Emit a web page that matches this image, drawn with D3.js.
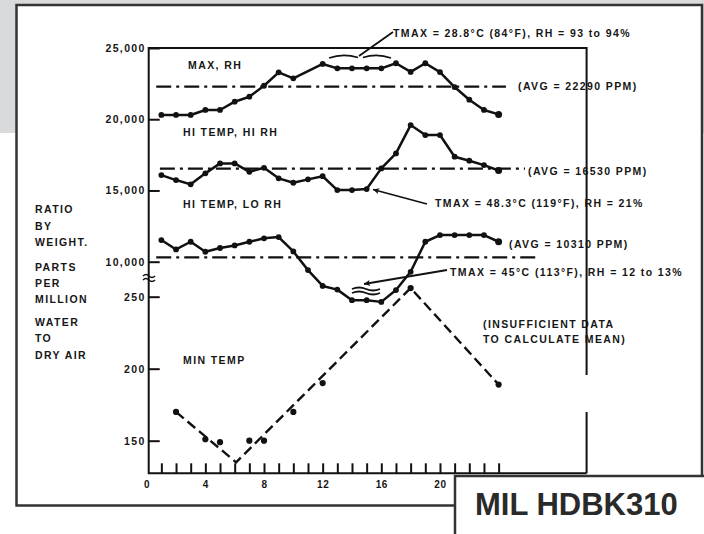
<!DOCTYPE html>
<html lang="en">
<head>
<meta charset="UTF-8">
<title>MIL HDBK310 - Water to Dry Air Ratio</title>
<style>
  html, body {width: 100%; height: 100%; margin: 0; padding: 0; background: #fff;}
  svg {display: block;}
  text {font-family: "Liberation Sans", Arial, sans-serif; font-weight: bold; fill: #161616;}
  .lbl {font-size: 10.5px; letter-spacing: 1.4px;}
  .tick text {font-size: 10.5px; letter-spacing: 1.35px; fill: #161616;}
  .xlab .tick text {font-size: 10px; letter-spacing: 0.6px;}
  .tick line {stroke: #111; stroke-width: 2px;}
  .series {fill: none; stroke: #111; stroke-width: 2.5px; stroke-linejoin: round;}
  .avg {fill: none; stroke: #111; stroke-width: 2.2px; stroke-dasharray: 15 5 3 5;}
  .trend {fill: none; stroke: #111; stroke-width: 2.4px; stroke-dasharray: 10 5;}
  .frame {fill: none; stroke: #333; stroke-width: 2.5px;}
  .thin {fill: none; stroke: #111; stroke-width: 1.8px;}
</style>
<script src="https://d3js.org/d3.v7.min.js"></script>
</head>
<body>

<!-- chart data (hour of day vs. ratio in ppm) -->
<script>
var maxRhHour = [1, 2, 3, 4, 5, 6, 7, 8, 9, 10, 12, 13, 14, 15, 16, 17, 18, 19, 20, 21, 22, 23, 24];
var maxRh = [20300, 20300, 20300, 20650, 20650, 21230, 21580, 22350, 23290, 22870, 23880, 23570, 23570,
	23570, 23570, 23930, 23320, 23930, 23310, 22260, 21370, 20650, 20340];

var hiHiHour = [1, 2, 3, 4, 5, 6, 7, 8, 9, 10, 11, 12, 13, 14, 15, 16, 17, 18, 19, 20, 21, 22, 23, 24];
var hiTempHiRh = [16080, 15730, 15430, 16200, 16900, 16900, 16310, 16590, 15850, 15540, 15780, 16000,
	15030, 15030, 15100, 16550, 17600, 19590, 18890, 18890, 17370, 17090, 16780, 16400];

var hiLoHour = [1, 2, 3, 4, 5, 6, 7, 8, 9, 10, 11, 12, 13, 14, 15, 16, 17, 18, 19, 20, 21, 22, 23, 24];
var hiTempLoRh = [11520, 10860, 11400, 10700, 10960, 11140, 11400, 11640, 11730, 10720, 9410, 8300,
	8040, 7300, 7300, 7180, 8010, 9290, 11400, 11870, 11870, 11870, 11870, 11400];

// min temp is plotted on the lower (broken) scale
var minTempHour = [2, 4, 5, 7, 8, 10, 12, 18, 24];
var minTemp = [170, 151, 149, 150, 150, 170, 190, 256, 189];
var minTrendHour = [2, 6.1, 18, 24];
var minTrend = [170, 135, 256, 189];

// averages: level and the hour span of each dashed line
var avgLevel = [22290, 16530, 10310];
var avgFrom = [0.65, 0.9, 0.65];
var avgTo = [24.5, 25.8, 26.5];

var upperTicks = [10000, 15000, 20000, 25000];
var lowerTicks = [150, 200, 250];
var hourTicks = [0, 4, 8, 12, 16, 20];
</script>

<script>
	var width = 704, height = 534;

	var svg = d3.select('body').append('svg')
		.attr('width', width)
		.attr('height', height);

	// arrow head, tip at the end of the line
	svg.append('defs').append('marker')
		.attr('id', 'arr')
		.attr('viewBox', '0 0 10 10')
		.attr('refX', 10).attr('refY', 5)
		.attr('markerWidth', 11).attr('markerHeight', 6)
		.attr('markerUnits', 'userSpaceOnUse')
		.attr('orient', 'auto')
		.append('path').attr('d', 'M10,5 L0,0 L2,5 L0,10 Z').attr('fill', '#111');

	// page background and frame
	svg.append('rect').attr('width', width).attr('height', 133).attr('fill', '#d9dadc');
	svg.append('rect').attr('x', 16.5).attr('y', 5).attr('width', 685.5).attr('height', 529).attr('fill', '#fff');
	svg.append('path').attr('class', 'frame')
		.attr('d', 'M16.5,505.5 V5 H702 V476 M455,534 V476 H706 M15.3,505.5 H455');
	svg.append('text')
		.attr('x', 475).attr('y', 515)
		.style('font-size', '31px').style('fill', '#2a2a2a')
		.text('MIL HDBK310');

	// scales
	var x = d3.scaleLinear().domain([0, 30]).range([146.7, 586.6]);
	var yUp = d3.scaleLinear().domain([10000, 25000]).range([261.7, 48]);
	var yLow = d3.scaleLinear().domain([150, 250]).range([440.7, 296.7]);
	var axisX = x(0) + 2;
	var bottomY = 473.3;

	// plot box: y axis, top, right (with a gap), bottom
	var g = svg.append('g');
	g.append('path').attr('class', 'thin').style('stroke-width', '2px')
		.attr('d', 'M' + axisX + ',' + (bottomY + 1) + ' V' + yUp(25000) + ' H' + x(30)
			+ ' V375 M' + x(30) + ',412 V' + bottomY + ' M' + (axisX - 1) + ',' + bottomY + ' H' + x(30));

	// axis break mark
	g.append('path').attr('class', 'thin').style('stroke-width', '1.6px')
		.attr('d', 'M143,276 q3,-3 6,0 t6,0 M143,280 q3,-3 6,0 t6,0');

	// y axes (ticks point inward)
	g.append('g').attr('transform', 'translate(' + axisX + ',0)')
		.call(d3.axisLeft(yUp).tickValues(upperTicks).tickFormat(d3.format(',')).tickSize(-11).tickPadding(3))
		.call(function (a) { a.select('.domain').remove(); });
	g.append('g').attr('transform', 'translate(' + axisX + ',0)')
		.call(d3.axisLeft(yLow).tickValues(lowerTicks).tickSize(-11).tickPadding(3))
		.call(function (a) { a.select('.domain').remove(); });

	// x axis: hourly minor ticks and labelled ticks every 4 hours
	g.append('g').attr('transform', 'translate(0,' + bottomY + ')')
		.call(d3.axisBottom(x).tickValues(d3.range(1, 25)).tickSize(-10).tickFormat(''))
		.call(function (a) { a.select('.domain').remove(); });
	g.append('g').attr('class', 'xlab').attr('transform', 'translate(0,' + bottomY + ')')
		.call(d3.axisBottom(x).tickValues(hourTicks).tickSize(0).tickPadding(8))
		.call(function (a) { a.select('.domain').remove(); });

	// average lines
	avgLevel.forEach(function (v, i) {
		g.append('line').attr('class', 'avg')
			.attr('x1', x(avgFrom[i])).attr('x2', x(avgTo[i]))
			.attr('y1', yUp(v)).attr('y2', yUp(v));
	});

	// the three upper series
	var upLine = d3.line()
		.x(function (d) { return x(d[0]); })
		.y(function (d) { return yUp(d[1]); });
	[[maxRhHour, maxRh], [hiHiHour, hiTempHiRh], [hiLoHour, hiTempLoRh]].forEach(function (s) {
		var pts = d3.zip(s[0], s[1]);
		g.append('path').attr('class', 'series').attr('d', upLine(pts));
		g.selectAll(null).data(pts).enter().append('circle')
			.attr('cx', function (d) { return x(d[0]); })
			.attr('cy', function (d) { return yUp(d[1]); })
			.attr('r', function (d, i) { return i === pts.length - 1 ? 3.5 : 2.9; })
			.attr('fill', '#111');
	});

	// min temp on the lower scale: dashed trend plus points
	var lowLine = d3.line()
		.x(function (d) { return x(d[0]); })
		.y(function (d) { return yLow(d[1]); });
	g.append('path').attr('class', 'trend').attr('d', lowLine(d3.zip(minTrendHour, minTrend)));
	g.selectAll(null).data(d3.zip(minTempHour, minTemp)).enter().append('circle')
		.attr('cx', function (d) { return x(d[0]); })
		.attr('cy', function (d) { return yLow(d[1]); })
		.attr('r', 3.1)
		.attr('fill', '#111');

	// labels
	var labels = [
		['MAX, RH', 188, 68.5],
		['HI TEMP, HI RH', 183, 135.7],
		['HI TEMP, LO RH', 183, 208],
		['MIN TEMP', 183, 364],
		['TMAX = 28.8°C (84°F), RH = 93 to 94%', 393, 37.3],
		['(AVG = 22290 PPM)', 518, 90],
		['(AVG = 16530 PPM)', 528, 175],
		['TMAX = 48.3°C (119°F), RH = 21%', 435, 207],
		['(AVG = 10310 PPM)', 509, 248.3],
		['TMAX = 45°C (113°F), RH = 12 to 13%', 450, 276],
		['(INSUFFICIENT DATA', 483, 328],
		['TO CALCULATE MEAN)', 483, 343.3],
		['RATIO', 35, 213.3], ['BY', 35, 229.7], ['WEIGHT.', 35, 246],
		['PARTS', 35, 271], ['PER', 35, 287], ['MILLION', 35, 303],
		['WATER', 35, 326], ['TO', 35, 342], ['DRY AIR', 35, 358.7]
	];
	svg.selectAll('.lbl').data(labels).enter().append('text')
		.attr('class', 'lbl')
		.attr('x', function (d) { return d[1]; })
		.attr('y', function (d) { return d[2]; })
		.text(function (d) { return d[0]; });

	// leader lines and brackets
	g.append('path').attr('class', 'thin')
		.attr('d', 'M329,58 Q343,53 358,57.5 M363,57.5 Q377,53 391,58 M359,56 L393,32');
	g.append('line').attr('class', 'thin')
		.attr('x1', 427).attr('y1', 204).attr('x2', 373).attr('y2', 189.5)
		.attr('marker-end', 'url(#arr)');
	g.append('line').attr('class', 'thin')
		.attr('x1', 447).attr('y1', 270).attr('x2', 364).attr('y2', 284)
		.attr('marker-end', 'url(#arr)');
	g.append('path').attr('class', 'thin')
		.attr('d', 'M352,289 q7,-3 14,0 t14,0 M352,293 q7,-3 14,0 t14,0');
</script>

</body>
</html>
